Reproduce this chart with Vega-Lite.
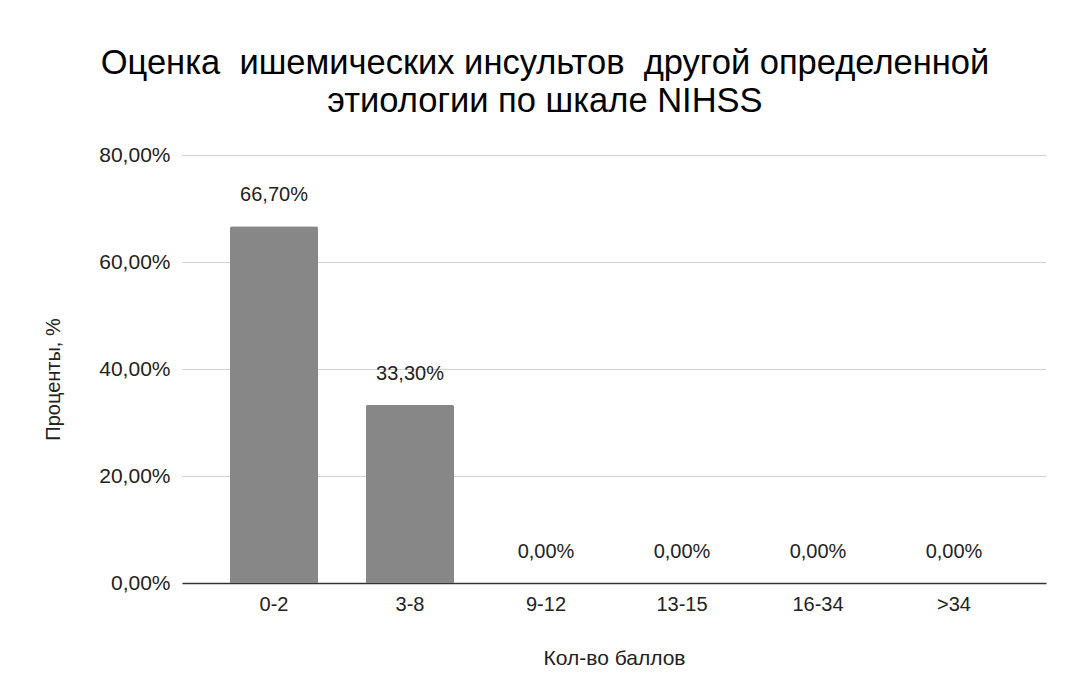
{
  "$schema": "https://vega.github.io/schema/vega-lite/v6.json",
  "autosize": {"type": "none"},
  "width": 864,
  "height": 428,
  "padding": {"left": 182, "top": 155, "right": 23, "bottom": 114},
  "background": "white",
  "title": {
    "text": ["Оценка \u00a0ишемических инсультов \u00a0другой определенной", "этиологии по шкале NIHSS"],
    "anchor": "middle",
    "dx": -69,
    "fontSize": 34.5,
    "font": "Liberation Sans",
    "fontWeight": "normal",
    "color": "#000000",
    "lineHeight": 38,
    "offset": 25
  },
  "config": {
    "locale": {"number": {"decimal": ",", "thousands": " ", "grouping": [3], "currency": ["", " €"]}},
    "view": {"stroke": null},
    "font": "Liberation Sans"
  },
  "data": {
    "values": [
      {"score": "0-2", "pct": 0.667},
      {"score": "3-8", "pct": 0.333},
      {"score": "9-12", "pct": 0},
      {"score": "13-15", "pct": 0},
      {"score": "16-34", "pct": 0},
      {"score": ">34", "pct": 0}
    ]
  },
  "encoding": {
    "x": {
      "field": "score",
      "type": "nominal",
      "sort": null,
      "scale": {"paddingInner": 0.353, "paddingOuter": 0.353},
      "axis": {
        "title": "Кол-во баллов",
        "titleFontSize": 21,
        "titleFontWeight": "normal",
        "titleColor": "#222222",
        "titlePadding": 33,
        "labelAngle": 0,
        "labelFontSize": 20,
        "labelColor": "#222222",
        "labelPadding": 11,
        "ticks": false,
        "domainColor": "#333333",
        "domainWidth": 1.5
      }
    },
    "y": {
      "field": "pct",
      "type": "quantitative",
      "scale": {"domain": [0, 0.8]},
      "axis": {
        "title": "Проценты, %",
        "titleFontSize": 20,
        "titleFontWeight": "normal",
        "titleColor": "#222222",
        "titlePadding": 35,
        "titleY": 224,
        "values": [0, 0.2, 0.4, 0.6, 0.8],
        "format": ".2%",
        "labelFontSize": 21,
        "labelColor": "#222222",
        "labelPadding": 12,
        "ticks": false,
        "domain": false,
        "gridColor": "#d0d0d0",
        "gridWidth": 1
      }
    }
  },
  "layer": [
    {
      "mark": {"type": "bar", "color": "#878787", "cornerRadiusTopLeft": 2, "cornerRadiusTopRight": 2}
    },
    {
      "mark": {"type": "text", "baseline": "alphabetic", "dy": -25, "fontSize": 20, "color": "#222222"},
      "encoding": {
        "text": {"field": "pct", "type": "quantitative", "format": ".2%"}
      }
    }
  ]
}
